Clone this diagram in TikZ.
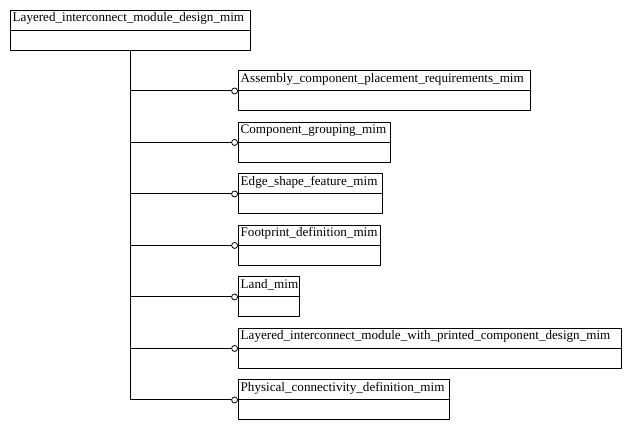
\documentclass[tikz,border=0pt]{standalone}
\usepackage{fontspec}
\setmainfont{Liberation Serif}
\usepackage{tikz}
\usetikzlibrary{positioning}

\tikzset{
  mimbox/.style={draw, line width=0.9pt, anchor=north west, minimum height=40pt, inner sep=0pt},
  mimtitle/.style={anchor=north west, inner xsep=2.5pt, inner ysep=2.5pt, font=\fontsize{13.1}{15}\selectfont},
  port/.style={draw, circle, line width=0.8pt, fill=white, minimum size=6pt, inner sep=0pt, anchor=east},
  link/.style={line width=0.9pt}
}

\begin{document}
\begin{tikzpicture}[line cap=round,line join=round,x=1pt,y=-1pt]
            \useasboundingbox (0,0) rectangle (630,430);
            % main schema
            \node[mimbox, minimum width=240pt] (lim) at (10,10) {};
            \node[mimtitle] (limt) at (lim.north west) {Layered\_interconnect\_module\_design\_mim};
            \draw [link] (lim.west) -- (lim.east);
            % used schemas
            \node[mimbox, minimum width=292pt] (acp) at (238,70.5) {};
            \node[mimtitle] (acpt) at (acp.north west) {Assembly\_component\_placement\_requirements\_mim};
            \draw [link] (acp.west) -- (acp.east);
            \node[mimbox, minimum width=152pt] (cg) at (238,122) {};
            \node[mimtitle] (cgt) at (cg.north west) {Component\_grouping\_mim};
            \draw [link] (cg.west) -- (cg.east);
            \node[mimbox, minimum width=144pt] (esf) at (238,173.5) {};
            \node[mimtitle] (esft) at (esf.north west) {Edge\_shape\_feature\_mim};
            \draw [link] (esf.west) -- (esf.east);
            \node[mimbox, minimum width=142pt] (fd) at (238,225) {};
            \node[mimtitle] (fdt) at (fd.north west) {Footprint\_definition\_mim};
            \draw [link] (fd.west) -- (fd.east);
            \node[mimbox, minimum width=61pt] (land) at (238,276.5) {};
            \node[mimtitle] (landt) at (land.north west) {Land\_mim};
            \draw [link] (land.west) -- (land.east);
            \node[mimbox, minimum width=383pt] (limp) at (238,328) {};
            \node[mimtitle] (limpt) at (limp.north west) {Layered\_interconnect\_module\_with\_printed\_component\_design\_mim};
            \draw [link] (limp.west) -- (limp.east);
            \node[mimbox, minimum width=211pt] (pcd) at (238,379.5) {};
            \node[mimtitle] (pcdt) at (pcd.north west) {Physical\_connectivity\_definition\_mim};
            \draw [link] (pcd.west) -- (pcd.east);
            % ports
            \node[port] (p1) at (acp.west) {};
            \node[port] (p2) at (cg.west) {};
            \node[port] (p3) at (esf.west) {};
            \node[port] (p4) at (fd.west) {};
            \node[port] (p5) at (land.west) {};
            \node[port] (p6) at (limp.west) {};
            \node[port] (p7) at (pcd.west) {};
            % trunk and branches
            \draw [link] (lim.south) |- (p7.west);
            \draw [link] (lim.south |- p1) -- (p1.west);
            \draw [link] (lim.south |- p2) -- (p2.west);
            \draw [link] (lim.south |- p3) -- (p3.west);
            \draw [link] (lim.south |- p4) -- (p4.west);
            \draw [link] (lim.south |- p5) -- (p5.west);
            \draw [link] (lim.south |- p6) -- (p6.west);
\end{tikzpicture}
\end{document}
